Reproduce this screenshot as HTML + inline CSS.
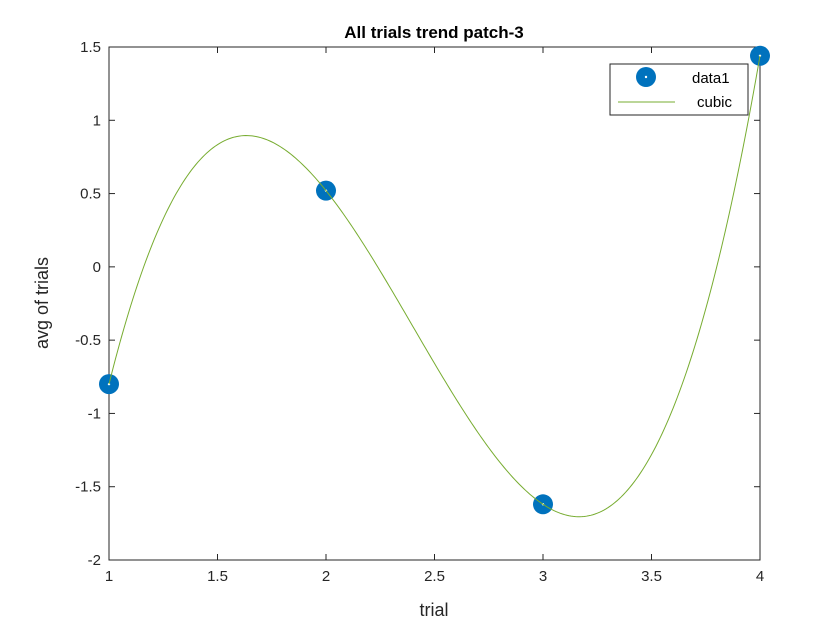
<!DOCTYPE html>
<html><head><meta charset="utf-8"><style>
body{margin:0;background:#fff;}
svg{display:block;font-family:"Liberation Sans",Arial,sans-serif;}
</style></head><body>
<svg id="chart" width="840" height="630">
<rect width="840" height="630" fill="#fff"/>
<g id="grid"></g>
<text x="434" y="38" text-anchor="middle" font-size="17" font-weight="bold" fill="#000">All trials trend patch-3</text>
<text x="434" y="616" text-anchor="middle" font-size="18" fill="#262626">trial</text>
<text x="0" y="0" transform="translate(48,303) rotate(-90)" text-anchor="middle" font-size="18" fill="#262626">avg of trials</text>
</svg>
<script>
const xs=[1,2,3,4];
const ys=[-0.80,0.52,-1.62,1.44];
const xTicks=[1,1.5,2,2.5,3,3.5,4];
const yTicks=[-2,-1.5,-1,-0.5,0,0.5,1,1.5];
const X0=109,X1=760,Y0=560,Y1=47;
const sx=v=>X0+(v-1)/3*(X1-X0);
const sy=v=>Y0-(v+2)/3.5*(Y0-Y1);
const NS="http://www.w3.org/2000/svg";
const svg=document.getElementById('chart');
function mk(t,a){const e=document.createElementNS(NS,t);for(const k in a)e.setAttribute(k,a[k]);svg.appendChild(e);return e;}
const box=mk('rect',{x:X0,y:Y1,width:X1-X0,height:Y0-Y1,fill:'none',stroke:'#262626','stroke-width':1});


xTicks.forEach(t=>{const x=sx(t);
mk('line',{x1:x,x2:x,y1:Y0,y2:Y0-6,stroke:'#262626'});mk('line',{x1:x,x2:x,y1:Y1,y2:Y1+6,stroke:'#262626'});
const l=mk('text',{x:x,y:Y0+21,'text-anchor':'middle','font-size':15,fill:'#262626'});l.textContent=String(t);

});
yTicks.forEach(t=>{const y=sy(t);
mk('line',{x1:X0,x2:X0+6,y1:y,y2:y,stroke:'#262626'});mk('line',{x1:X1,x2:X1-6,y1:y,y2:y,stroke:'#262626'});
const l=mk('text',{x:X0-8,y:y+5,'text-anchor':'end','font-size':15,fill:'#262626'});l.textContent=String(t);

});
function lag(x){let s=0;for(let i=0;i<xs.length;i++){let p=ys[i];for(let j=0;j<xs.length;j++)if(j!==i)p*=(x-xs[j])/(xs[i]-xs[j]);s+=p;}return s;}
let d='';const xmin=Math.min(...xs),xmax=Math.max(...xs);
for(let k=0;k<=300;k++){const x=xmin+(xmax-xmin)*k/300;d+=(k?'L':'M')+sx(x).toFixed(2)+','+sy(lag(x)).toFixed(2);}
xs.forEach((x,i)=>{const c=mk('circle',{cx:sx(x),cy:sy(ys[i]),r:10,fill:'#0072BD'});


mk('circle',{cx:sx(x),cy:sy(ys[i]),r:1.2,fill:'#fff'});});
const ln=mk('path',{d:d,fill:'none',stroke:'#77AC30','stroke-width':1});


const lg=mk('rect',{x:610,y:64,width:138,height:51,fill:'#fff',stroke:'#262626'});


mk('circle',{cx:646,cy:77,r:10,fill:'#0072BD'});mk('circle',{cx:646,cy:77,r:1.2,fill:'#fff'});
let t=mk('text',{x:692,y:83,'font-size':15,fill:'#000'});t.textContent='data1';


mk('line',{x1:618,x2:675,y1:102,y2:102,stroke:'#77AC30'});
t=mk('text',{x:697,y:107,'font-size':15,fill:'#000'});t.textContent='cubic';


</script>
</body></html>
